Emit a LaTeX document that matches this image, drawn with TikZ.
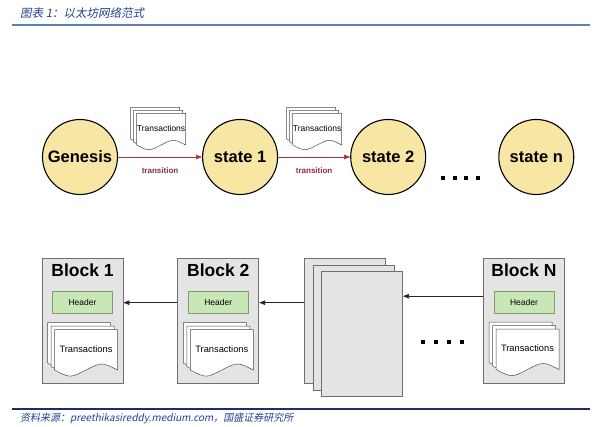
\documentclass[tikz,border=0pt]{standalone}
\usepackage{fontspec}
\setmainfont{Liberation Sans}
\newfontfamily\cjk[FakeSlant=0.2]{Noto Sans CJK SC}
\usepackage{tikz}
\usetikzlibrary{arrows.meta, positioning, shapes.geometric}

\definecolor{capblue}{HTML}{22408F}
\definecolor{caprule}{HTML}{5F7FB5}
\definecolor{footrule}{HTML}{1E2C6A}
\definecolor{statefill}{HTML}{F8E6A5}
\definecolor{transred}{HTML}{A3354B}
\definecolor{blockfill}{HTML}{E4E4E4}
\definecolor{blockline}{HTML}{6E6E6E}
\definecolor{hdrfill}{HTML}{C9E7B6}
\definecolor{hdrline}{HTML}{7F9E70}

% Stack of three transaction pages, front page centred at #2
\newcommand{\txstack}[6]{% #1 name, #2 centre, #3 width, #4 height, #5 page offset, #6 font size
  \begin{scope}[shift={(#2)}]
    \foreach \k in {2,1,0}
      \draw[docpage, shift={(-\k*#5,-\k*#5)}]
        (-#3/2,-#4/2) -- (#3/2,-#4/2) -- (#3/2,#4/2-0.1*#4)
        .. controls (#3/4,#4/2-0.28*#4) .. (0,#4/2-0.1*#4)
        .. controls (-#3/4,#4/2+0.08*#4) .. (-#3/2,#4/2-0.1*#4) -- cycle;
    \node[doctext, font=\fontsize{#6}{#6}\selectfont] (#1) at (0,-3) {Transactions};
  \end{scope}}

\begin{document}
\begin{tikzpicture}[x=1pt, y=-1pt]

        % Define style
        \tikzstyle{statenode} = [circle, draw, line width=1.1pt, fill=statefill, minimum size=75pt, inner sep=0pt, font=\bfseries\fontsize{16.5}{19}\selectfont]
        \tikzstyle{trans} = [draw=transred, line width=0.6pt, -{Triangle[length=6pt,width=4.5pt]}]
        \tikzstyle{translabel} = [text=transred!85!black, inner sep=1pt, font=\bfseries\fontsize{8}{9}\selectfont]
        \tikzstyle{blockbox} = [rectangle, draw=blockline, line width=0.8pt, fill=blockfill, minimum width=81pt, minimum height=125pt]
        \tikzstyle{blocktitle} = [inner sep=0pt, font=\bfseries\fontsize{17.5}{20}\selectfont]
        \tikzstyle{hdrbox} = [rectangle, draw=hdrline, line width=0.7pt, fill=hdrfill, minimum width=60pt, minimum height=22pt, inner sep=0pt, font=\fontsize{8.5}{10}\selectfont]
        \tikzstyle{pagebox} = [rectangle, draw=blockline, line width=0.8pt, fill=blockfill, minimum width=81pt, minimum height=125pt]
        \tikzstyle{docpage} = [draw=black!70, line width=0.5pt, fill=white]
        \tikzstyle{doctext} = [inner sep=0pt]
        \tikzstyle{chain} = [draw=black!85, line width=0.6pt, -{Triangle[length=6pt,width=4.5pt]}]

        \useasboundingbox (0,0) rectangle (595,427);

        % Caption and source
        \node[anchor=west, inner sep=0pt, text=capblue, font=\cjk\fontsize{11.5}{13}\selectfont] (caption) at (20,13) {图表 1：以太坊网络范式};
        \draw[caprule, line width=1.6pt] (12,25) -- (590,25);
        \draw[footrule, line width=1.2pt] (12,409) -- (590,409);
        \node[anchor=west, inner sep=0pt, text=capblue, font=\cjk\fontsize{10}{12}\selectfont] (source) at (20,418) {资料来源：preethikasireddy.medium.com，国盛证券研究所};

        % States (top row)
        \node[statenode] (genesis) at (80,157) {Genesis};
        \node[statenode, right=84pt of genesis] (state1) {state 1};
        \node[statenode, right=72pt of state1] (state2) {state 2};
        \node[statenode, right=72pt of state2] (staten) {state n};

        \draw[trans] (genesis) -- node[translabel, below=9pt] (tlab1) {transition} coordinate[midway] (m1) (state1);
        \draw[trans] (state1) -- node[translabel, below=9pt] (tlab2) {transition} coordinate[midway] (m2) (state2);

        \txstack{tx1}{[xshift=1pt,yshift=26pt]m1}{49}{35}{3}{8.5}
        \txstack{tx2}{[xshift=3pt,yshift=26pt]m2}{49}{35}{3}{8.5}

        \foreach \x in {443,455,466,478}
          \fill (\x-2,176) rectangle +(4,4);

        % Blocks (bottom row)
        \node[blockbox] (b1) at (82.5,321) {};
        \node[blocktitle, below=6pt of b1.north] (b1t) {Block 1};
        \node[hdrbox, below=14pt of b1t] (h1) {Header};
        \txstack{tx3}{[xshift=3.5pt,yshift=-38pt]h1.south}{63}{45}{3.5}{9.3}

        \node[blockbox, right=54pt of b1] (b2) {};
        \node[blocktitle, below=6pt of b2.north] (b2t) {Block 2};
        \node[hdrbox, below=14pt of b2t] (h2) {Header};
        \txstack{tx4}{[xshift=3.5pt,yshift=-38pt]h2.south}{63}{45}{3.5}{9.3}

        % Pages standing for the blocks in between
        \node[pagebox, right=45pt of b2] (p1) {};
        \node[pagebox] (p2) at ([xshift=8.5pt,yshift=-6.5pt]p1.center) {};
        \node[pagebox] (p3) at ([xshift=8.5pt,yshift=-6.5pt]p2.center) {};

        \node[blockbox] (bn) at (524,320.5) {};
        \node[blocktitle, below=6pt of bn.north] (bnt) {Block N};
        \node[hdrbox, below=14pt of bnt] (hn) {Header};
        \txstack{tx5}{[xshift=3.5pt,yshift=-38pt]hn.south}{63}{45}{3.5}{9.3}

        % Links back to the previous block
        \draw[chain] (b2.west |- h2.center) -- (b1.east |- h1.center);
        \draw[chain] (p1.west |- h2.center) -- (b2.east |- h2.center);
        \coordinate (an) at ([yshift=6pt]hn.west);
        \draw[chain] (an -| bn.west) -- (an -| p3.east);

        \foreach \x in {423,436,449,462}
          \fill (\x-2,340) rectangle +(4,4);

    \end{tikzpicture}
\end{document}
